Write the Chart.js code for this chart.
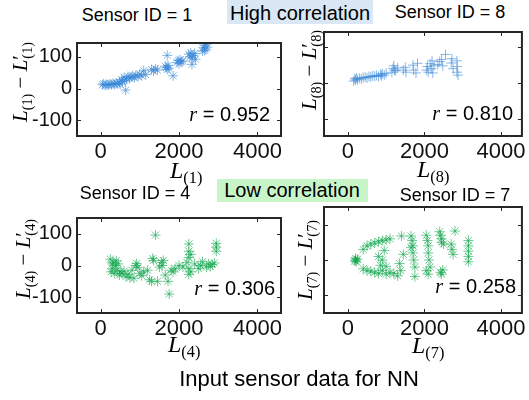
<!DOCTYPE html>
<html><head><meta charset="utf-8">
<script src="https://cdn.jsdelivr.net/npm/chart.js@4.4.1/dist/chart.umd.min.js"></script>
<style>
html,body{margin:0;padding:0;background:#fff;width:529px;height:400px;overflow:hidden;position:relative;font-family:'Liberation Sans',Arial,sans-serif;color:#000}
canvas{position:absolute}
.t{position:absolute;white-space:nowrap;line-height:1}
.m{font-family:'Liberation Serif','Times New Roman',serif}
.sub{font-size:0.68em;position:relative;top:0.32em;font-style:normal}
.pr{font-style:normal}
.box{position:absolute}
</style></head><body>
<script>
// ---- data ----
const xTicks = [0, 2000, 4000];
const yTicks = [-100, 0, 100];
const rValues = ['0.952', '0.810', '0.306', '0.258'];
const sensorIds = [1, 8, 4, 7];

const sensor1 = [[50,12],[80,15],[120,10],[160,13],[200,11],[240,14],[280,12],[320,16],[360,13],[400,17],[440,15],[480,20],[500,14],[540,28],[560,22],[600,35],[620,25],[640,-5],[660,30],[700,38],[740,32],[780,36],[820,40],[860,34],[900,42],[950,38],[1000,45],[1050,40],[1100,56],[1150,44],[1300,60],[1350,55],[1400,62],[1450,58],[1650,70],[1680,66],[1700,104],[1720,72],[1740,64],[1700,60],[1850,40],[1950,82],[1980,88],[2000,78],[2030,90],[2060,84],[2100,86],[2250,108],[2280,100],[2300,112],[2330,96],[2360,104],[2400,110],[2330,76],[2420,92],[2600,118],[2620,128],[2650,136],[2680,124],[2700,140],[2720,130],[2650,120]];
const sensor8 = [[150,5],[180,12],[200,8],[220,14],[250,9],[300,13],[350,11],[400,15],[450,16],[500,14],[550,18],[600,17],[650,20],[700,19],[750,21],[800,18],[850,24],[880,20],[900,26],[950,22],[1000,27],[1150,30],[1180,40],[1200,48],[1220,36],[1250,34],[1300,42],[1450,36],[1500,44],[1520,30],[1700,50],[1720,36],[1780,28],[1820,55],[2050,36],[2080,46],[2100,30],[2150,54],[2180,40],[2200,62],[2220,28],[2250,48],[2350,52],[2400,60],[2450,66],[2480,48],[2550,80],[2700,56],[2720,68],[2750,40],[2850,62],[2850,30],[2880,22],[2860,46]];
const sensor4 = [[250,20],[270,-20],[300,5],[300,-10],[320,10],[350,-25],[380,0],[400,15],[420,-15],[450,5],[480,-30],[500,-20],[550,-25],[600,-18],[650,-35],[700,-28],[750,-38],[800,-15],[850,-40],[900,0],[920,6],[950,-6],[1000,-25],[1050,-32],[1100,-20],[1200,-15],[1250,-45],[1300,-50],[1330,22],[1350,16],[1400,96],[1450,-50],[1500,-5],[1550,10],[1570,0],[1600,16],[1650,-30],[1720,-50],[1750,-90],[1800,-15],[1850,-20],[1900,-10],[2000,0],[2100,-5],[2200,10],[2250,25],[2250,45],[2250,68],[2250,-10],[2250,-28],[2300,35],[2300,-20],[2400,5],[2500,-10],[2550,0],[2600,12],[2700,-5],[2750,5],[2800,-3],[2850,3],[2900,8],[2950,45],[2950,70],[2950,58]];
const sensor7 = [[200,0],[200,5],[220,-5],[250,2],[180,-3],[400,30],[500,40],[600,45],[700,48],[800,52],[900,55],[1000,57],[1100,60],[400,-25],[500,-30],[600,-32],[700,-35],[800,-38],[900,-30],[1000,-40],[1100,-35],[1200,-38],[1300,-45],[800,10],[850,-15],[950,27],[900,0],[1000,-18],[1400,68],[1450,16],[1350,-10],[1380,-30],[1650,68],[1680,55],[1700,40],[1700,20],[1720,0],[1750,-20],[1750,-47],[1650,35],[2050,70],[2080,55],[2100,40],[2100,20],[2120,0],[2150,-20],[2100,-40],[2050,-30],[2400,80],[2420,70],[2450,60],[2450,50],[2500,45],[2480,-28],[2420,-35],[2450,-40],[2800,82],[2700,45],[2720,30],[2750,16],[3150,55],[3150,40],[3150,25],[3150,10],[3150,-5]];

const BLUE = 'rgba(55,135,215,0.6)';
const GREEN = 'rgba(15,165,75,0.6)';
const SANS = "'Liberation Sans', Arial, sans-serif";

const frame = {
  id: 'frame',
  afterDatasetsDraw(chart) {
    const {ctx, chartArea: a, scales: {x, y}} = chart;
    ctx.save();
    ctx.strokeStyle = '#262626';
    ctx.lineWidth = 1;
    ctx.beginPath();
    const L = 4;
    x.ticks.forEach(t => {
      const p = Math.round(x.getPixelForValue(t.value)) + 0.5;
      ctx.moveTo(p, a.bottom); ctx.lineTo(p, a.bottom - L);
      ctx.moveTo(p, a.top); ctx.lineTo(p, a.top + L);
    });
    y.ticks.forEach(t => {
      const p = Math.round(y.getPixelForValue(t.value)) + 0.5;
      ctx.moveTo(a.left, p); ctx.lineTo(a.left + L, p);
      ctx.moveTo(a.right, p); ctx.lineTo(a.right - L, p);
    });
    ctx.stroke();
    ctx.lineWidth = 2;
    ctx.strokeRect(a.left, a.top, a.right - a.left, a.bottom - a.top);
    ctx.restore();
  }
};

const panels = [
  {data: sensor1, color: BLUE, style: 'star', left: 0, top: 26, w: 287, h: 142, yW: 70, padL: 7, showY: true, xmin: -600, xmax: 4600, ymin: -149, ymax: 143},
  {data: sensor8, color: BLUE, style: 'cross', left: 318, top: 26, w: 211, h: 142, yW: 0, padL: 2, showY: false, xmin: -625, xmax: 4550, ymin: -149, ymax: 143},
  {data: sensor4, color: GREEN, style: 'star', left: 0, top: 201, w: 287, h: 144, yW: 70, padL: 7, showY: true, xmin: -600, xmax: 4600, ymin: -150, ymax: 150},
  {data: sensor7, color: GREEN, style: 'star', left: 318, top: 201, w: 211, h: 144, yW: 0, padL: 2, showY: false, xmin: -625, xmax: 4550, ymin: -150, ymax: 150}
];

panels.forEach(p => {
  const c = document.createElement('canvas');
  c.width = p.w; c.height = p.h;
  c.style.left = p.left + 'px'; c.style.top = p.top + 'px';
  c.style.width = p.w + 'px'; c.style.height = p.h + 'px';
  document.body.appendChild(c);
  new Chart(c, {
    type: 'scatter',
    data: {datasets: [{
      data: p.data.map(([x, y]) => ({x, y})),
      pointStyle: p.style, pointRadius: 5, borderWidth: 1,
      borderColor: p.color, backgroundColor: p.color
    }]},
    options: {
      responsive: false, animation: false, events: [],
      layout: {padding: {left: p.padL, right: 2, top: 2, bottom: 0}},
      plugins: {legend: {display: false}, tooltip: {enabled: false}},
      scales: {
        x: {
          type: 'linear', position: 'bottom', min: p.xmin, max: p.xmax,
          grid: {display: false, drawTicks: false}, border: {display: false},
          afterBuildTicks: s => { s.ticks = xTicks.map(v => ({value: v})); },
          afterFit: s => { s.height = 32; },
          ticks: {padding: 3, color: '#111', font: {family: SANS, size: 22}, maxRotation: 0, autoSkip: false, callback: v => String(v)}
        },
        y: {
          type: 'linear', position: 'left', min: p.ymin, max: p.ymax,
          grid: {display: false, drawTicks: false}, border: {display: false},
          afterBuildTicks: s => { s.ticks = yTicks.map(v => ({value: v})); },
          afterFit: s => { s.width = p.yW; },
          ticks: {display: p.showY, padding: 5, color: '#111', font: {family: SANS, size: 20}, callback: v => String(v)}
        }
      }
    },
    plugins: [frame]
  });
});

// ---- text ----
function box(l, t, w, h, bg) {
  const d = document.createElement('div'); d.className = 'box';
  Object.assign(d.style, {left: l + 'px', top: t + 'px', width: w + 'px', height: h + 'px', background: bg});
  document.body.appendChild(d);
}
function txt(html, x, base, size, align, serif) {
  const d = document.createElement('div'); d.className = 't' + (serif ? ' m' : '');
  d.style.fontSize = size + 'px'; d.innerHTML = html;
  const k = serif ? 0.8375 : 0.8465;
  d.style.top = (base - k * size) + 'px'; d.style.left = x + 'px';
  d.style.transform = align === 'c' ? 'translateX(-50%)' : align === 'r' ? 'translateX(-100%)' : 'none';
  document.body.appendChild(d);
}
function ytitle(html, cx, cy, size) {
  const d = document.createElement('div'); d.className = 't m';
  d.style.fontSize = size + 'px'; d.innerHTML = html;
  d.style.left = cx + 'px'; d.style.top = cy + 'px';
  d.style.transform = 'translate(-50%,-50%) rotate(-90deg)';
  document.body.appendChild(d);
}
const Lsub = k => `<i>L</i><span class="sub">(${k})</span>`;
const Ldiff = k => `<i>L</i><span class="sub">(${k})</span> &minus; <i>L</i><span class="pr">&prime;</span><span class="sub" style="margin-left:-0.25em">(${k})</span>`;
const rTxt = v => `<span class="m"><i>r</i></span> = ${v}`;

box(227, 0, 146, 24, '#dae8f6');
box(217, 179, 151, 23, '#c8f5c8');
txt('High correlation', 300, 20, 20, 'c');
txt('Low correlation', 292, 197, 20, 'c');

txt('Sensor ID = ' + sensorIds[0], 137, 21, 18, 'c');
txt('Sensor ID = ' + sensorIds[1], 450, 18, 18, 'c');
txt('Sensor ID = ' + sensorIds[2], 135, 199, 18, 'c');
txt('Sensor ID = ' + sensorIds[3], 455, 201, 18, 'c');

txt(Lsub(sensorIds[0]), 170, 178, 24, 'l', true);
txt(Lsub(sensorIds[1]), 417, 177, 24, 'l', true);
txt(Lsub(sensorIds[2]), 168, 352, 24, 'l', true);
txt(Lsub(sensorIds[3]), 412, 353, 24, 'l', true);

ytitle(Ldiff(sensorIds[0]), 20, 82, 21);
ytitle(Ldiff(sensorIds[1]), 309, 70, 21);
ytitle(Ldiff(sensorIds[2]), 23, 259, 21);
ytitle(Ldiff(sensorIds[3]), 305, 260, 21);

txt(rTxt(rValues[0]), 270, 121, 20, 'r');
txt(rTxt(rValues[1]), 513, 120, 20, 'r');
txt(rTxt(rValues[2]), 275, 295, 20, 'r');
txt(rTxt(rValues[3]), 516, 293, 20, 'r');

txt('Input sensor data for NN', 299, 387, 22, 'c');
</script>
</body></html>
